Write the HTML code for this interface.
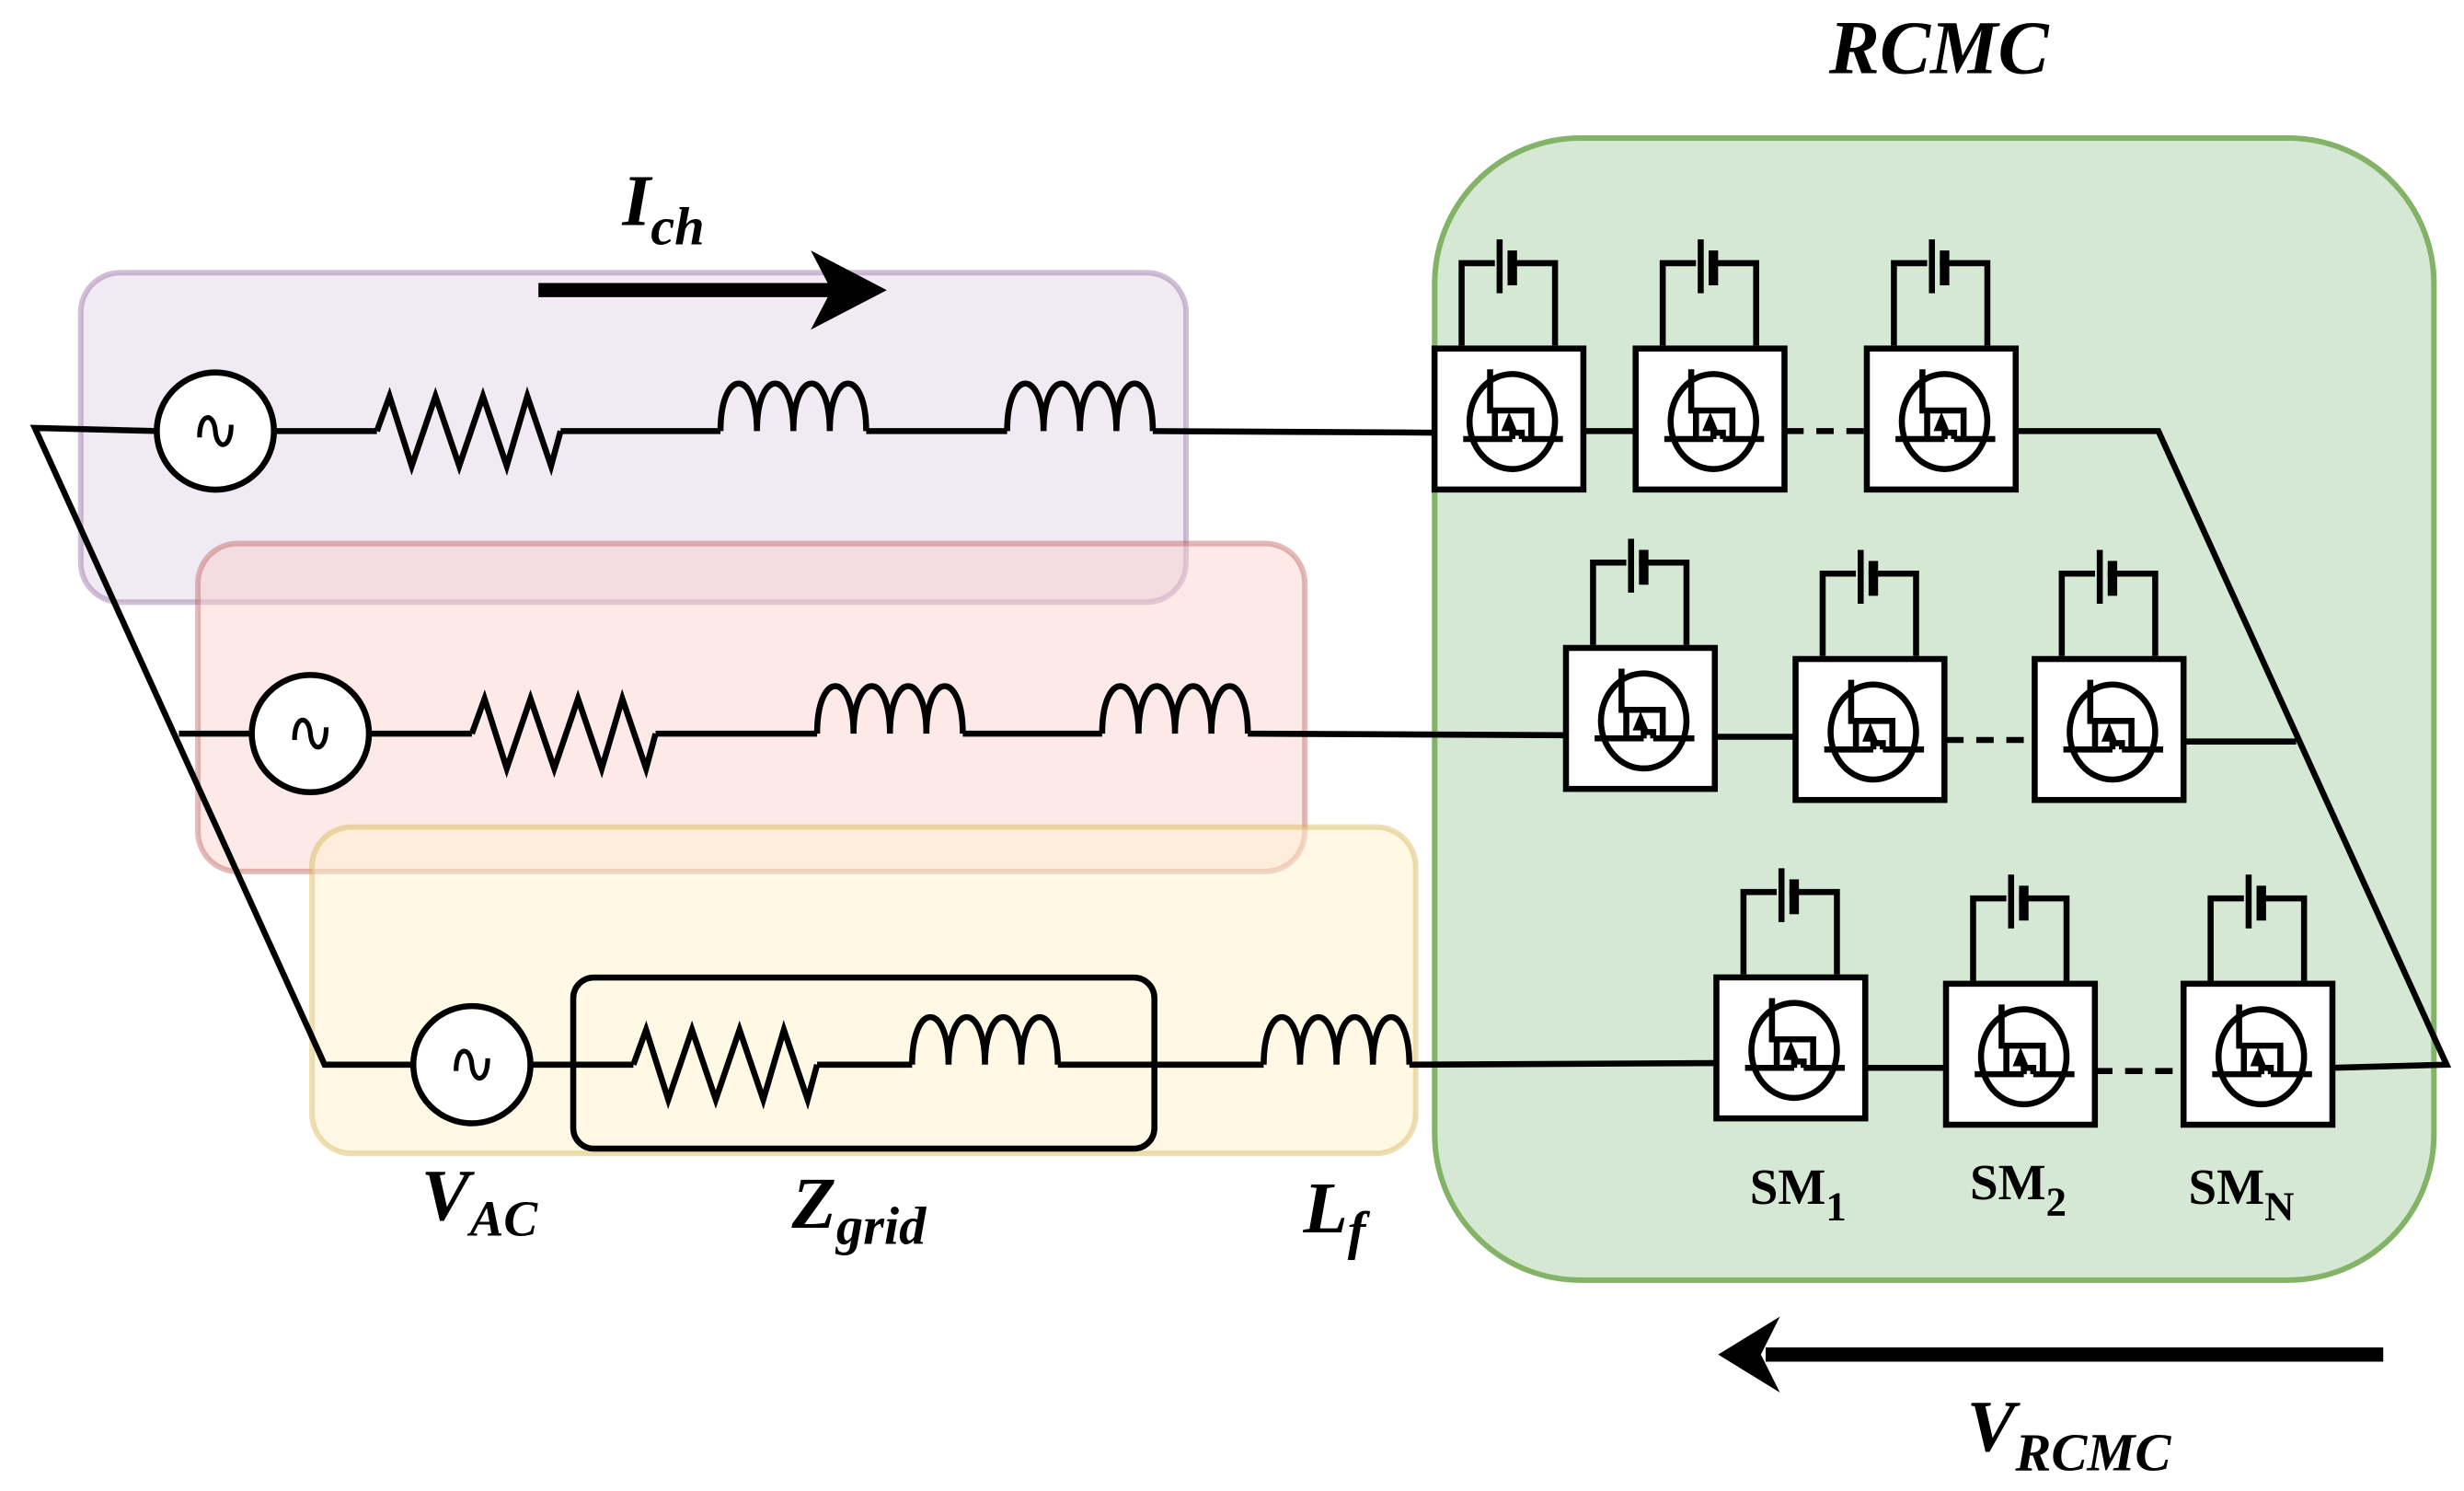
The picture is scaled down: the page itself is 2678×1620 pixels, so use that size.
<!DOCTYPE html>
<html><head><meta charset="utf-8"><style>
html,body{margin:0;padding:0;background:#fff;}
svg{display:block;}
text{font-family:"Liberation Serif","Times New Roman",serif;}
</style></head><body>
<svg width="2678" height="1620" viewBox="0 0 1556 941" xmlns="http://www.w3.org/2000/svg" font-family="'Liberation Serif', 'Times New Roman', serif">
<defs>
<g id="ind"><path d="M0,0 c0,-40 23,-40 23,0 c0,-40 23,-40 23,0 c0,-40 23,-40 23,0 c0,-40 23,-40 23,0" fill="none" stroke="#000" stroke-width="3.8"/></g>
<g id="res"><polyline points="0,0 8,-22 22,22 37,-22 52,22 67,-22 82,22 95,-22 110,22 116,0" fill="none" stroke="#000" stroke-width="3.8"/></g>
<g id="src"><ellipse cx="0" cy="0" rx="37" ry="37" fill="#fff" stroke="#000" stroke-width="3.8"/><path d="M-10,4 c0,-16 9,-16 10,-4 c1,12 10,12 10,-4" fill="none" stroke="#000" stroke-width="3"/></g>
<g id="sm">
<path d="M19,0 V-52 H78 V0" fill="none" stroke="#000" stroke-width="3.8"/>
<rect x="40" y="-56" width="8" height="10" fill="#d5e8d4"/>
<line x1="43" y1="-67" x2="43" y2="-33" stroke="#000" stroke-width="3.8"/>
<rect x="48" y="-60" width="6" height="22" fill="#000"/>
<rect x="1.9" y="1.9" width="94" height="89" fill="#fff" stroke="#000" stroke-width="3.8"/>
<ellipse cx="51" cy="48" rx="27" ry="30" fill="none" stroke="#000" stroke-width="3.8"/>
<path d="M20,59 H51 M57,59 H83" stroke="#000" stroke-width="3.8" fill="none"/>
<path d="M37,15 V41 H63 V59 M40,41 V59 M51,59 V55 H57 V59" fill="none" stroke="#000" stroke-width="3.8"/>
<polygon points="49,42 44,54 54,54" fill="#000"/>
</g>
</defs>
<rect x="906" y="87" width="631" height="721" rx="92" fill="#d5e8d4" stroke="#82b366" stroke-width="3.5"/>
<rect x="51" y="172" width="698" height="208" rx="25" fill="#e1d5e7" fill-opacity="0.5" stroke="#9673a6" stroke-opacity="0.45" stroke-width="3.5"/>
<rect x="125" y="343" width="699" height="207" rx="25" fill="#f8cecc" fill-opacity="0.45" stroke="#b85450" stroke-opacity="0.4" stroke-width="3.5"/>
<rect x="197" y="522" width="697" height="206" rx="25" fill="#fff2cc" fill-opacity="0.5" stroke="#d6b656" stroke-opacity="0.45" stroke-width="3.5"/>

<g stroke="#000" stroke-width="3.8" fill="none">
<polyline points="100,272 22,270 205,672 262,672"/>
<line x1="113" y1="463" x2="160" y2="463"/>
<line x1="172" y1="272" x2="238" y2="272"/>
<line x1="354" y1="272" x2="455" y2="272"/>
<line x1="547" y1="272" x2="636" y2="272"/>
<line x1="728" y1="272" x2="906" y2="273"/>
<line x1="1001" y1="272" x2="1033" y2="272"/>
<line x1="1128" y1="272" x2="1178" y2="272" stroke-dasharray="11,8"/>
<polyline points="1274,272 1363,272 1545,672 1472,674"/>
<line x1="232" y1="463" x2="298" y2="463"/>
<line x1="414" y1="463" x2="516" y2="463"/>
<line x1="608" y1="463" x2="696" y2="463"/>
<line x1="788" y1="463" x2="988" y2="464"/>
<line x1="1084" y1="465" x2="1134" y2="465"/>
<line x1="1229" y1="467" x2="1284" y2="467" stroke-dasharray="11,8"/>
<line x1="1379" y1="468" x2="1450" y2="468"/>
<line x1="334" y1="672" x2="400" y2="672"/>
<line x1="516" y1="672" x2="576" y2="672"/>
<line x1="668" y1="672" x2="798" y2="672"/>
<line x1="890" y1="672" x2="1083" y2="671"/>
<line x1="1178" y1="674" x2="1228" y2="674"/>
<line x1="1323" y1="676" x2="1379" y2="676" stroke-dasharray="11,8"/>
</g>
<use href="#src" x="136" y="272"/>
<use href="#res" x="238" y="272"/>
<use href="#ind" x="455" y="272"/>
<use href="#ind" x="636" y="272"/>
<use href="#src" x="196" y="463"/>
<use href="#res" x="298" y="463"/>
<use href="#ind" x="516" y="463"/>
<use href="#ind" x="696" y="463"/>
<use href="#src" x="298" y="672"/>
<use href="#res" x="400" y="672"/>
<use href="#ind" x="576" y="672"/>
<use href="#ind" x="798" y="672"/>
<rect x="362" y="617" width="367" height="108" rx="13" fill="none" stroke="#000" stroke-width="3.8"/>

<use href="#sm" x="904" y="218"/>
<use href="#sm" x="1031" y="218"/>
<use href="#sm" x="1177" y="218"/>
<use href="#sm" x="987" y="407"/>
<use href="#sm" x="1132" y="414"/>
<use href="#sm" x="1283" y="414"/>
<use href="#sm" x="1082" y="615"/>
<use href="#sm" x="1227" y="619"/>
<use href="#sm" x="1377" y="619"/>

<line x1="340" y1="183" x2="525" y2="183" stroke="#000" stroke-width="9"/>
<polygon points="512,158 560,183 512,208 525,183" fill="#000"/>
<line x1="1505" y1="855" x2="1115" y2="855" stroke="#000" stroke-width="9"/>
<polygon points="1124,831 1085,855 1124,879 1112,855" fill="#000"/>

<text x="1155" y="46" font-size="48" font-weight="bold" font-style="italic" font-family="'Liberation Serif', serif">RCMC</text>
<text x="393" y="142" font-size="46" font-style="italic" font-weight="bold" font-family="'Liberation Serif', serif">I<tspan font-size="34" dy="12">ch</tspan></text>
<text x="266" y="770" font-size="46" font-style="italic" font-weight="bold" font-family="'Liberation Serif', serif">V<tspan font-size="32" dy="10">AC</tspan></text>
<text x="500" y="775" font-size="46" font-style="italic" font-weight="bold" font-family="'Liberation Serif', serif">Z<tspan font-size="34" dy="10">grid</tspan></text>
<text x="823" y="778" font-size="46" font-style="italic" font-weight="bold" font-family="'Liberation Serif', serif">L<tspan font-size="34" dy="10">f</tspan></text>
<text x="1105" y="760" font-size="32" font-weight="bold" font-family="'Liberation Serif', serif">SM<tspan font-size="26" dy="10">1</tspan></text>
<text x="1244" y="757" font-size="32" font-weight="bold" font-family="'Liberation Serif', serif">SM<tspan font-size="26" dy="10">2</tspan></text>
<text x="1382" y="760" font-size="32" font-weight="bold" font-family="'Liberation Serif', serif">SM<tspan font-size="26" dy="10">N</tspan></text>
<text x="1242" y="916" font-size="46" font-style="italic" font-weight="bold" font-family="'Liberation Serif', serif">V<tspan font-size="34" dy="12">RCMC</tspan></text>
</svg>
</body></html>
